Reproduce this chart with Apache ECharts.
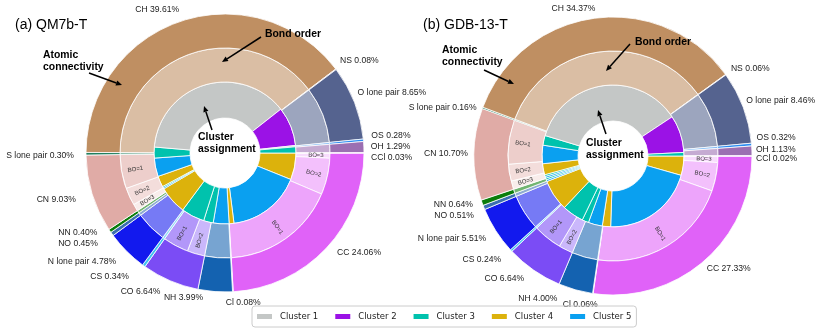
<!DOCTYPE html>
<html><head><meta charset="utf-8">
<script src="https://cdn.jsdelivr.net/npm/echarts@6/dist/echarts.min.js"></script>
<style>html,body{margin:0;padding:0;background:#fff}#c{width:822px;height:331px}</style>
</head><body><div id="c"></div>
<script>
// ---------- DATA ----------
const bondNames = ['CC','Cl','NH','CO','CS','N lone pair','NO','NN','CN','S lone pair','CH','NS','O lone pair','OS','OH','CCl'];
const bondValuesA = [24.06,0.08,3.99,6.64,0.34,4.78,0.45,0.40,9.03,0.30,39.61,0.08,8.65,0.28,1.29,0.03];
const bondValuesB = [27.33,0.06,4.00,6.64,0.24,5.51,0.51,0.64,10.70,0.16,34.37,0.06,8.46,0.32,1.13,0.02];

const orderBond = ['CC','CC','CC','Cl','NH','CO','CO','CS','N lone pair','NO','NN','CN','CN','CN','S lone pair','CH','NS','O lone pair','OS','OH','CCl'];
const orderLabels = ['BO=3','BO=2','BO=1','','','BO=2','BO=1','','','','','BO=3','BO=2','BO=1','','','','','','',''];
const orderValuesA = [0.8,5.6,17.66,0.08,3.99,2.7,3.94,0.34,4.78,0.45,0.40,1.1,2.7,5.23,0.30,39.61,0.08,8.65,0.28,1.29,0.03];
const orderValuesB = [1.0,4.4,21.93,0.06,4.00,2.2,4.44,0.24,5.51,0.51,0.64,1.3,2.6,6.8,0.16,34.37,0.06,8.46,0.32,1.13,0.02];

const clusterNames = ['Cluster 1','Cluster 2','Cluster 3','Cluster 4','Cluster 5'];
const clusterIdxA = [4,5,4,5,3,3,4,5,3,4,5,3,1,2,1,3];
const clusterValuesA = [6.1,16.9,1.1,3.6,2.2,5.3,6.4,0.3,0.3,2.5,4.2,2.5,38.1,8.9,0.3,1.4];
const clusterIdxB = [4,5,4,5,3,3,4,5,3,5,3,4,5,3,1,2,3];
const clusterValuesB = [4.4,21.1,1.9,3.2,1.5,4.9,7.1,0.4,0.4,0.4,0.4,2.5,4.2,2.2,36.0,8.5,0.8];

const panelTitles = ['(a) QM7b-T','(b) GDB-13-T'];

// ---------- STYLE ----------
const clusterColors = ['#c4c7c6','#9b12e6','#00c2ad','#dcb20c','#0aa0f0'];
const bondColors = {
  'CC':'#e062f8','Cl':'#f2c9f0','NH':'#1462b0','CO':'#7b4cf5','CS':'#3fc4f0',
  'N lone pair':'#1219ee','NO':'#3b6fb0','NN':'#0b7d0b','CN':'#e0aba6',
  'S lone pair':'#1f7f5f','CH':'#bf8f62','NS':'#c9a0a0','O lone pair':'#55638f',
  'OS':'#2b8cf0','OH':'#9b6fb2','CCl':'#c080d0'
};
function mix(hex, t){
  const n = parseInt(hex.slice(1),16);
  const r=(n>>16)&255, g=(n>>8)&255, b=n&255;
  const f = c => Math.round(c + (255-c)*t);
  return 'rgb('+f(r)+','+f(g)+','+f(b)+')';
}
const boMix = {'':0.42,'BO=1':0.42,'BO=2':0.6,'BO=3':0.78};

const panels = [
  {center:[225,153], bond:bondValuesA, order:orderValuesA, cIdx:clusterIdxA, cVal:clusterValuesA,
   nudge:{'CH':[3,3],'NS':[-8,0],'O lone pair':[-11,-4],'OS':[-7,-3],'OH':[-8,0],'CCl':[-8,5],'CC':[0,-6],
          'Cl':[-8,-4],'NH':[-11,-9],'CO':[-4,-3],'CS':[-6,-1],'NO':[-2,1],'NN':[0,-7],'CN':[-2,1],'S lone pair':[3,2]}},
  {center:[613,156], bond:bondValuesB, order:orderValuesB, cIdx:clusterIdxB, cVal:clusterValuesB,
   nudge:{'CH':[3,5],'NS':[-7,3],'O lone pair':[-11,-1],'S lone pair':[8,5],'OS':[-10,-6],'OH':[-11,-1],'CCl':[-11,3],
          'CC':[-7,-4],'Cl':[7,-4],'NH':[-14,-6],'CO':[-1,-4],'CS':[1,-1],'N lone pair':[3,0],'NO':[4,3],'NN':[5,-3],'CN':[9,0]}}
];
const R0=35, R1=71, R2=105, R3=139;
const border = {borderColor:'#fff', borderWidth:0.8};
const series = [];
panels.forEach((p, pi) => {
  const common = {type:'pie', center:p.center, startAngle:0, clockwise:true, avoidLabelOverlap:false,
    animation:false, emphasis:{disabled:true}, silent:true};
  series.push(Object.assign({}, common, {
    name:'cluster'+pi, radius:[R0,R1], label:{show:false}, labelLine:{show:false},
    data: p.cVal.map((v,i)=>({name:clusterNames[p.cIdx[i]-1], value:v,
      itemStyle:Object.assign({color:clusterColors[p.cIdx[i]-1]}, border)}))
  }));
  series.push(Object.assign({}, common, {
    name:'order'+pi, radius:[R1,R2], labelLine:{show:false},
    label:{show:true, position:'inside', rotate:'radial', fontSize:6, color:'#333',
      fontFamily:'Liberation Sans, Arial, sans-serif', formatter: prm => orderLabels[prm.dataIndex]},
    data: p.order.map((v,i)=>({name:orderBond[i]+' '+orderLabels[i], value:v,
      label:{show: orderLabels[i]!==''},
      itemStyle:Object.assign({color:mix(bondColors[orderBond[i]], boMix[orderLabels[i]])}, border)}))
  }));
  series.push(Object.assign({}, common, {
    name:'bond'+pi, radius:[R2,R3],
    label:{show:true, position:'outside', fontSize:8.6, color:'#222', distanceToLabelLine:0,
      fontFamily:'Liberation Sans, Arial, sans-serif',
      formatter: prm => prm.name+' '+prm.value.toFixed(2)+'%'},
    labelLine:{show:false, length:15, length2:0},
    labelLayout: prm => { const d = p.nudge[bondNames[prm.dataIndex]]; return d ? {dx:d[0], dy:d[1]} : {}; },
    data: p.bond.map((v,i)=>({name:bondNames[i], value:v,
      itemStyle:Object.assign({color:bondColors[bondNames[i]]}, border)}))
  }));
});

// annotations
const annos = [
  {t:'Bond order', x:265, y:34, from:[261,37], to:[222,62]},
  {t:'Atomic\nconnectivity', x:43, y:61, from:[89,73], to:[122,85]},
  {t:'Cluster\nassignment', x:198, y:143, from:[212,130], to:[204,106]},
  {t:'Bond order', x:635, y:42, from:[630,44], to:[606,71]},
  {t:'Atomic\nconnectivity', x:442, y:56, from:[484,70], to:[514,84]},
  {t:'Cluster\nassignment', x:586, y:149, from:[606,134], to:[598,110]}
];
const graphic = [];
annos.forEach(a => {
  graphic.push({type:'text', z:100, style:{text:a.t, x:a.x, y:a.y, fill:'#000',
    font:'bold 10.4px "Liberation Sans", Arial, sans-serif', lineHeight:12.5, verticalAlign:'middle', align:'left'}});
  const [x1,y1]=a.from, [x2,y2]=a.to;
  const ang=Math.atan2(y2-y1,x2-x1), L=6, W=2.6;
  const bx=x2-L*Math.cos(ang), by=y2-L*Math.sin(ang);
  graphic.push({type:'line', z:100, shape:{x1:x1,y1:y1,x2:bx,y2:by}, style:{stroke:'#000', lineWidth:1.5}});
  graphic.push({type:'polygon', z:100, shape:{points:[[x2,y2],[bx+W*Math.sin(ang),by-W*Math.cos(ang)],[bx-W*Math.sin(ang),by+W*Math.cos(ang)]]}, style:{fill:'#000'}});
});

const option = {
  backgroundColor:'#fff',
  animation:false,
  title:[
    {text:panelTitles[0], left:15, top:18, textStyle:{fontSize:14, fontWeight:'normal', color:'#000', fontFamily:'Liberation Sans, Arial, sans-serif'}, padding:0},
    {text:panelTitles[1], left:423, top:18, textStyle:{fontSize:14, fontWeight:'normal', color:'#000', fontFamily:'Liberation Sans, Arial, sans-serif'}, padding:0}
  ],
  legend:{data:clusterNames, left:252, top:306, orient:'horizontal', icon:'rect', itemWidth:17, itemHeight:7, itemGap:15,
    selectedMode:false, borderColor:'#ccc', borderWidth:1, borderRadius:3, padding:[6,5,6,3],
    textStyle:{fontSize:8.5, color:'#222', fontFamily:'DejaVu Sans, sans-serif', padding:[0,0,0,2]}},
  series: series,
  graphic: graphic
};
const chart = echarts.init(document.getElementById('c'), null, {renderer:'canvas'});
chart.setOption(option);
</script></body></html>
